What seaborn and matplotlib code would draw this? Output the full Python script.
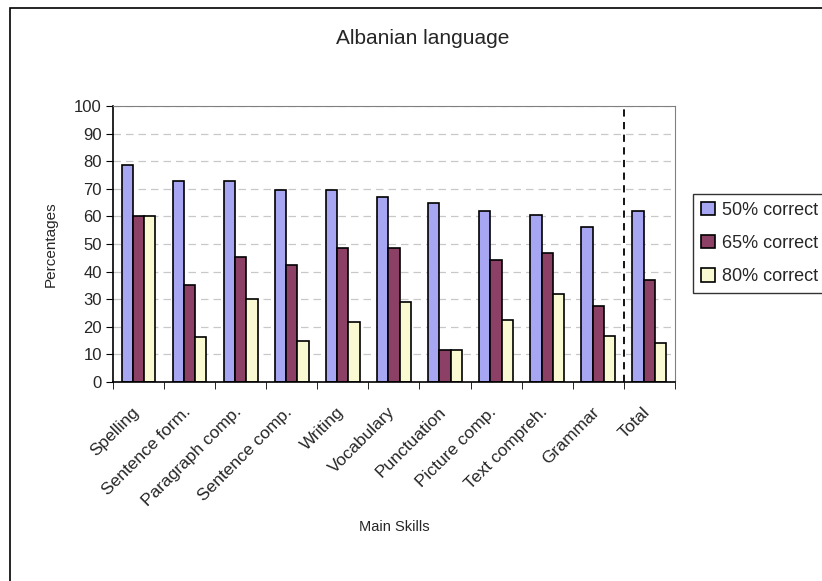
import matplotlib
matplotlib.use("Agg")
from matplotlib import pyplot as plt
from matplotlib.patches import Rectangle
from matplotlib.transforms import ScaledTranslation
import pandas as pd
import seaborn as sns

skills = ["Spelling", "Sentence form.", "Paragraph comp.", "Sentence comp.",
          "Writing", "Vocabulary", "Punctuation", "Picture comp.",
          "Text compreh.", "Grammar", "Total"]
correct_50 = [78.5, 72.7, 72.7, 69.4, 69.4, 66.9, 65.0, 61.8, 60.6, 56.2, 61.8]
correct_65 = [60.0, 35.1, 45.4, 42.3, 48.4, 48.4, 11.6, 44.1, 46.6, 27.5, 37.1]
correct_80 = [60.0, 16.2, 30.1, 14.9, 21.9, 28.9, 11.6, 22.6, 32.0, 16.8, 14.2]
series = ["50% correct", "65% correct", "80% correct"]
colors = ["#9999FF", "#993366", "#FFFFCC"]

df = pd.DataFrame({"skill": skills * 3,
                   "pct": correct_50 + correct_65 + correct_80,
                   "series": [s for s in series for _ in skills]})

sns.set_style("white")
plt.rcParams["font.family"] = ["Liberation Sans", "DejaVu Sans"]

fig = plt.figure(figsize=(8.22, 5.81), dpi=100)
ax = fig.add_axes([0.1375, 0.3425, 0.6835, 0.4751])

sns.barplot(data=df, x="skill", y="pct", hue="series", palette=colors,
            width=0.66, edgecolor="black", linewidth=1.2, ax=ax, legend=True)

ax.set_ylim(0, 100)
ax.set_xlim(-0.5, len(skills) - 0.5)
ax.set_yticks(range(0, 101, 10))
ax.yaxis.grid(True, linestyle=(0, (6, 4)), color="#c8c8c8", linewidth=0.9)
ax.set_axisbelow(True)
ax.axvline(len(skills) - 1.5, color="black", linestyle=(0, (4, 3)), linewidth=1.3)

for s in ["top", "right"]:
    ax.spines[s].set_color("#808080")
for s in ["left", "bottom"]:
    ax.spines[s].set_color("black")
    ax.spines[s].set_linewidth(1.2)

ax.set_xticks([i for i in range(len(skills))])
ax.set_xticklabels(skills, rotation=45, ha="right", rotation_mode="anchor", fontsize=12.5)
ax.tick_params(axis="y", labelsize=12, length=5, left=True, color="black", pad=3)
ax.tick_params(axis="x", length=0, pad=16)
shift = ScaledTranslation(-7 / 100, 0, fig.dpi_scale_trans)
for lab in ax.get_xticklabels():
    lab.set_transform(lab.get_transform() + shift)
# tick marks at group boundaries
ax.set_xticks([i - 0.5 for i in range(len(skills) + 1)], minor=True)
ax.tick_params(axis="x", which="minor", length=5, bottom=True, color="black")

ax.set_xlabel("Main Skills", fontsize=10.5, labelpad=8)
ax.set_ylabel("Percentages", fontsize=11, labelpad=12)

fig.text(0.514, 0.934, "Albanian language", ha="center", va="center", fontsize=15)

leg = ax.legend(loc="center left", bbox_to_anchor=(1.032, 0.502), frameon=True,
                fancybox=False, edgecolor="black", fontsize=13,
                handlelength=0.75, handleheight=0.75, handletextpad=0.4,
                labelspacing=0.9, borderpad=0.45, borderaxespad=0)
leg.get_frame().set_linewidth(1.0)

fig.patches.append(Rectangle((10 / 822, -0.05), 1.0, 1 - 8 / 581 + 0.05,
                             transform=fig.transFigure, fill=False,
                             edgecolor="black", linewidth=1.2))

fig.savefig("out.png", dpi=100)
